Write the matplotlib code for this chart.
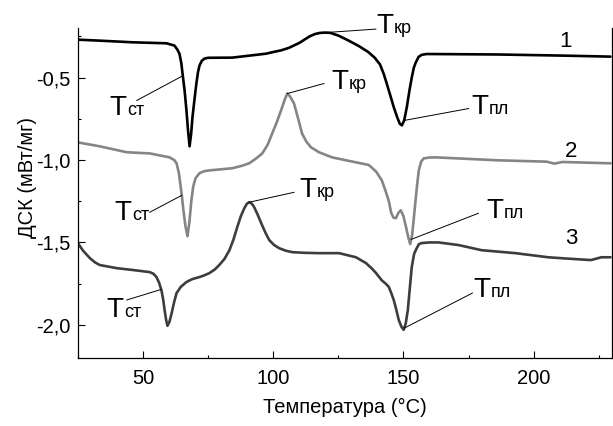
import numpy as np
import matplotlib
matplotlib.use("Agg")
import matplotlib.pyplot as plt
from matplotlib.ticker import MultipleLocator, FuncFormatter
from matplotlib.transforms import offset_copy

plt.rcParams["font.family"] = ["Liberation Sans", "DejaVu Sans"]

# DSC curves: temperature (°C) and heat flow (mW/mg)
t1 = [25, 33.4, 46, 59, 62.1, 63.2, 64, 64.7, 65.2, 66, 66.7, 67.3, 67.9, 68.5,
      69, 69.8, 70.5, 71.1, 71.7, 72.6, 73.6, 75, 84.3, 97.3, 100, 103, 106,
      108, 110, 112, 114, 116, 118, 120, 122, 125, 129, 133, 136.5, 139, 141,
      142.5, 143.6, 145, 146.3, 147.6, 148.6, 149.4, 150.3, 151.3, 152.3,
      153.2, 154, 154.7, 155.8, 157, 159, 186.5, 212, 229.5]
v1 = [-0.270, -0.276, -0.286, -0.292, -0.306, -0.33, -0.355, -0.41, -0.476,
      -0.58, -0.70, -0.82, -0.917, -0.84, -0.742, -0.63, -0.537, -0.47, -0.427,
      -0.398, -0.385, -0.380, -0.379, -0.355, -0.345, -0.335, -0.32, -0.305,
      -0.29, -0.27, -0.25, -0.236, -0.229, -0.227, -0.229, -0.245, -0.276,
      -0.31, -0.345, -0.38, -0.42, -0.48, -0.537, -0.61, -0.68, -0.74, -0.78,
      -0.79, -0.76, -0.68, -0.58, -0.50, -0.44, -0.41, -0.375, -0.362, -0.357,
      -0.360, -0.367, -0.373]

t2 = [25, 33.4, 43.8, 52.6, 60.2, 62, 62.9, 63.8, 64.8, 65.5, 66.3, 67.1, 67.8,
      68.6, 69.3, 70.2, 71.7, 73.5, 75.5, 84.3, 88, 90.8, 93.5, 95.8, 97.8,
      99.6, 101.4, 103, 104.4, 105.4, 106.5, 108, 109.6, 111.1, 112.8, 114.5,
      117.6, 122.6, 129, 136.7, 139.5, 141.7, 143.2, 144.4, 145.3, 146.2,
      147.1, 148.1, 149, 150, 150.9, 151.9, 152.6, 153.3, 153.9, 154.4, 155.2,
      155.9, 156.8, 157.8, 160, 162.4, 186.5, 205, 208, 211, 229.5]
v2 = [-0.893, -0.917, -0.953, -0.960, -0.984, -1.0, -1.02, -1.08, -1.20,
      -1.30, -1.40, -1.462, -1.38, -1.244, -1.16, -1.11, -1.08, -1.068,
      -1.063, -1.05, -1.035, -1.02, -0.99, -0.96, -0.91, -0.84, -0.77, -0.70,
      -0.635, -0.597, -0.615, -0.657, -0.75, -0.84, -0.89, -0.923, -0.953,
      -0.984, -1.005, -1.03, -1.07, -1.123, -1.19, -1.25, -1.32, -1.35,
      -1.353, -1.32, -1.305, -1.34, -1.40, -1.47, -1.51, -1.46, -1.37,
      -1.286, -1.16, -1.063, -1.01, -0.99, -0.985, -0.984, -1.002, -1.010,
      -1.022, -1.012, -1.02]

t3 = [25, 27, 29.6, 31.5, 33.4, 39.9, 46, 52.6, 54, 55.2, 56.2, 57.1, 57.8,
      58.3, 58.9, 59.4, 60.2, 61, 62, 62.9, 64.5, 66.7, 69, 71.7, 73.5, 75.5,
      77.5, 79.3, 81.3, 83.2, 84.8, 86.2, 87.6, 88.9, 89.9, 90.8, 91.8, 92.7,
      94, 95.4, 97, 98.5, 100.3, 102.3, 104.8, 107.3, 112, 117.6, 125.3,
      131.8, 135.6, 138, 139.5, 141.7, 143.2, 144.4, 145.4, 146.3, 147.3,
      148.2, 149.2, 150.1, 150.9, 151.7, 152.5, 153.2, 154.1, 155.1, 156, 157,
      160, 163.5, 171.2, 180, 193, 205.6, 212, 222, 226, 229.5]
v3 = [-1.504, -1.55, -1.595, -1.62, -1.637, -1.656, -1.667, -1.68, -1.69,
      -1.71, -1.745, -1.79, -1.85, -1.91, -1.97, -2.006, -1.98, -1.93, -1.86,
      -1.807, -1.77, -1.74, -1.722, -1.71, -1.70, -1.686, -1.665, -1.637,
      -1.60, -1.547, -1.48, -1.407, -1.34, -1.293, -1.265, -1.256, -1.265,
      -1.286, -1.33, -1.383, -1.44, -1.486, -1.515, -1.535, -1.55, -1.559,
      -1.563, -1.565, -1.565, -1.59, -1.625, -1.66, -1.686, -1.73, -1.75,
      -1.77, -1.81, -1.85, -1.91, -1.97, -2.01, -2.03, -1.99, -1.91, -1.77,
      -1.65, -1.57, -1.535, -1.51, -1.504, -1.50, -1.50, -1.516, -1.547,
      -1.565, -1.59, -1.597, -1.607, -1.59, -1.59]

curves = [(t1, v1, "#000000"), (t2, v2, "#858585"), (t3, v3, "#3d3d3d")]
curve_names = ["1", "2", "3"]
name_pos = [(210, -0.315), (212, -0.98), (212, -1.51)]

# labels: (curve index, subscript, text x, text y, leader start x, leader start y, target T)
labels = [
    (0, "ст", 37.2, -0.73, 47.6, -0.639, 65.3),
    (0, "кр", 139.8, -0.228, 139.4, -0.206, 120.0),
    (0, "пл", 176.2, -0.718, 175.0, -0.688, 150.3),
    (1, "ст", 39.2, -1.365, 52.6, -1.317, 64.9),
    (1, "кр", 122.2, -0.567, 119.5, -0.536, 105.4),
    (1, "пл", 181.9, -1.353, 178.8, -1.323, 153.0),
    (2, "ст", 36.1, -1.952, 43.8, -1.849, 57.0),
    (2, "кр", 110.0, -1.226, 108.0, -1.196, 90.8),
    (2, "пл", 176.9, -1.83, 176.5, -1.807, 150.3),
]

fig = plt.figure(figsize=(6.13, 4.26), dpi=100)
ax = fig.add_axes([0.127, 0.160, 0.871, 0.774])

for t, v, c in curves:
    ax.plot(t, v, color=c, lw=1.9, solid_joinstyle="round", solid_capstyle="round")

for (x, y), name in zip(name_pos, curve_names):
    ax.text(x, y, name, fontsize=16, ha="left", va="baseline")

for ci, sub, tx, ty, lx, ly, tt in labels:
    t, v, _ = curves[ci]
    ty_target = np.interp(tt, t, v)
    ax.plot([lx, tt], [ly, ty_target], color="black", lw=0.7, clip_on=False)
    ax.text(tx, ty, "T", fontsize=20, ha="left", va="baseline", clip_on=False)
    tr = offset_copy(ax.transData, fig=fig, x=12.5, y=0, units="points")
    ax.text(tx, ty, sub, fontsize=13, ha="left", va="baseline",
            transform=tr, clip_on=False)

ax.set_xlim(25, 230)
ax.set_ylim(-2.2, -0.2)
ax.xaxis.set_major_locator(MultipleLocator(50))
ax.xaxis.set_minor_locator(MultipleLocator(25))
ax.yaxis.set_major_locator(MultipleLocator(0.5))
ax.yaxis.set_minor_locator(MultipleLocator(0.25))
ax.yaxis.set_major_formatter(FuncFormatter(lambda v, p: f"{v:.1f}".replace(".", ",")))

ax.spines["top"].set_visible(False)
for s in ["left", "bottom", "right"]:
    ax.spines[s].set_linewidth(0.9)
ax.tick_params(which="major", direction="in", length=5, width=0.8,
               labelsize=14.5, pad=5)
ax.tick_params(which="minor", direction="in", length=2.5, width=0.8)
ax.tick_params(axis="x", which="major", pad=8)

ax.set_xlabel("Температура (°C)", fontsize=14.5, labelpad=7)
ax.set_ylabel("ДСК (мВт/мг)", fontsize=14.5)
ax.yaxis.set_label_coords(-0.077, 0.548)

fig.savefig("out.png", dpi=100)
